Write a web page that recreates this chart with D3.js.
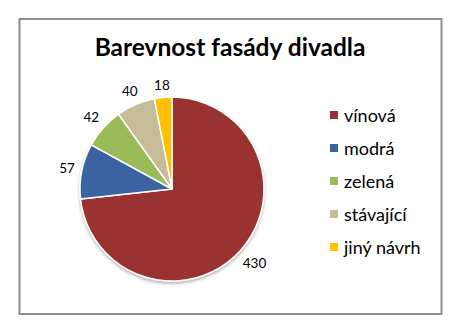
<!DOCTYPE html>
<html>
<head>
<meta charset="utf-8">
<script src="https://cdn.jsdelivr.net/npm/d3@7"></script>
<style>
  body { margin: 0; background: #fff; }
  text { font-family: Lato, "Open Sans", sans-serif; }
</style>
</head>
<body>
<div id="chart"></div>
<script>
// data
const categories = ["vínová", "modrá", "zelená", "stávající", "jiný návrh"];
const values = [430, 57, 42, 40, 18];
const colors = ["#9a3033", "#3b64a0", "#9bbb59", "#c4bd97", "#ffc000"];
const title = "Barevnost fasády divadla";

const width = 459, height = 330;
const cx = 172, cy = 189, radius = 92;

const svg = d3.select("#chart")
  .append("svg")
    .attr("width", width)
    .attr("height", height);

// shadow under the pie
const defs = svg.append("defs");
defs.append("filter")
    .attr("id", "shadow")
    .attr("x", "-20%").attr("y", "-20%")
    .attr("width", "140%").attr("height", "140%")
  .append("feDropShadow")
    .attr("dx", 0).attr("dy", 2)
    .attr("stdDeviation", 1.5)
    .attr("flood-color", "#000")
    .attr("flood-opacity", 0.3);

// frame
svg.append("rect")
    .attr("x", 19.5).attr("y", 19)
    .attr("width", 422).attr("height", 295)
    .attr("fill", "#fff")
    .attr("stroke", "#8e8e8e")
    .attr("stroke-width", 2);

// title
svg.append("text")
    .attr("x", 230)
    .attr("y", 56)
    .attr("text-anchor", "middle")
    .style("font-size", "24.5px")
    .style("font-weight", "bold")
    .attr("fill", "#000")
    .text(title);

// pie
const pie = d3.pie().sort(null).value(d => d)(values);
const arc = d3.arc().innerRadius(0).outerRadius(radius);

const g = svg.append("g")
    .attr("transform", `translate(${cx}, ${cy})`);

g.append("g")
    .attr("filter", "url(#shadow)")
  .selectAll("path")
  .data(pie)
  .join("path")
    .attr("d", arc)
    .attr("fill", (d, i) => colors[i])
    .attr("stroke", "#fff")
    .attr("stroke-width", 1.5)
    .attr("stroke-linejoin", "round");

// labels - outside end
const labels = g.selectAll("text.lbl")
  .data(pie)
  .join("text")
    .attr("class", "lbl")
    .style("font-size", "13.5px")
    .attr("fill", "#000")
    .attr("text-anchor", "middle")
    .attr("dominant-baseline", "central")
    .text(d => d.value);

labels.each(function(d) {
  const bb = this.getBBox();
  const a = (d.startAngle + d.endAngle) / 2;
  const s = Math.sin(a), c = Math.cos(a);
  const r = radius + 6 + Math.abs(s) * bb.width / 2 + Math.abs(c) * 6;
  d3.select(this)
    .attr("x", r * s)
    .attr("y", -r * c);
});

// legend
const legend = svg.append("g")
    .attr("transform", "translate(330, 115)");

const rows = legend.selectAll("g")
  .data(categories)
  .join("g")
    .attr("transform", (d, i) => `translate(0, ${i * 33})`);

rows.append("rect")
    .attr("x", 0).attr("y", -4)
    .attr("width", 8).attr("height", 8)
    .attr("fill", (d, i) => colors[i]);

rows.append("text")
    .attr("x", 14)
    .attr("y", 0)
    .attr("dominant-baseline", "central")
    .style("font-size", "18px")
    .attr("fill", "#000")
    .text(d => d);
</script>
</body>
</html>
